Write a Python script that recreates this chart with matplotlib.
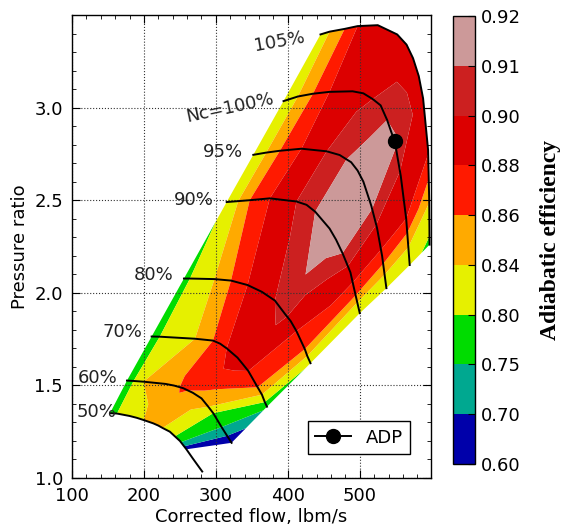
import numpy as np
import matplotlib
matplotlib.use("Agg")
import matplotlib.pyplot as plt
from matplotlib.ticker import MultipleLocator

# ---------------- data ----------------
speed_labels = ["50%", "60%", "70%", "80%", "90%", "95%", "Nc=100%", "105%"]

flow_50 = [152.8, 162.5, 180, 190, 199.6, 213, 220, 226, 236, 243, 250, 255, 259]
pr_50 = [1.35, 1.348, 1.335, 1.325, 1.313, 1.295, 1.283, 1.27, 1.25, 1.225, 1.20, 1.175, 1.155]
eff_50 = [0.775, 0.80, 0.825, 0.832, 0.84, 0.847, 0.845, 0.84, 0.82, 0.80, 0.765, 0.71, 0.66]
flow_50_tail = [268, 281]
pr_50_tail = [1.105, 1.035]

flow_60 = [176.4, 185.6, 199.5, 230, 242, 254.6, 268, 274, 280, 289.4, 296.3, 307.9, 321.8]
pr_60 = [1.526, 1.524, 1.52, 1.508, 1.499, 1.485, 1.46, 1.445, 1.43, 1.385, 1.35, 1.275, 1.19]
eff_60 = [0.78, 0.80, 0.84, 0.852, 0.857, 0.862, 0.858, 0.855, 0.85, 0.84, 0.80, 0.75, 0.66]

flow_70 = [210.7, 222, 271, 296, 306, 315, 330, 338, 345, 358, 364, 368, 371]
pr_70 = [1.764, 1.763, 1.752, 1.742, 1.725, 1.70, 1.65, 1.612, 1.578, 1.49, 1.45, 1.41, 1.385]
eff_70 = [0.78, 0.80, 0.84, 0.86, 0.87, 0.88, 0.89, 0.886, 0.88, 0.86, 0.84, 0.80, 0.76]

flow_80 = [255.6, 264, 298, 321, 344, 364, 382, 396, 404, 412, 423.6, 427, 431.5]
pr_80 = [2.077, 2.077, 2.074, 2.066, 2.042, 2.005, 1.958, 1.886, 1.847, 1.793, 1.696, 1.659, 1.62]
eff_80 = [0.785, 0.80, 0.84, 0.86, 0.88, 0.89, 0.90, 0.904, 0.893, 0.88, 0.86, 0.84, 0.806]

flow_90 = [315, 331, 347, 375, 412, 426, 438, 458, 467, 476, 487, 494, 500]
pr_90 = [2.49, 2.495, 2.50, 2.51, 2.493, 2.475, 2.438, 2.347, 2.287, 2.214, 2.11, 1.99, 1.89]
eff_90 = [0.805, 0.84, 0.86, 0.88, 0.90, 0.906, 0.91, 0.917, 0.915, 0.91, 0.895, 0.862, 0.81]

flow_95 = [352, 370, 389, 419, 454, 472, 488, 497, 505, 516, 524, 531, 537]
pr_95 = [2.745, 2.757, 2.767, 2.778, 2.764, 2.744, 2.705, 2.66, 2.60, 2.47, 2.35, 2.20, 2.025]
eff_95 = [0.82, 0.84, 0.86, 0.88, 0.90, 0.907, 0.912, 0.915, 0.917, 0.912, 0.898, 0.875, 0.815]

flow_100 = [394, 414, 435, 458, 490, 505, 518, 529, 538, 549, 557, 564.5, 569.4]
pr_100 = [3.035, 3.06, 3.075, 3.085, 3.088, 3.077, 3.046, 3.012, 2.933, 2.81, 2.63, 2.40, 2.15]
eff_100 = [0.82, 0.84, 0.86, 0.88, 0.893, 0.897, 0.90, 0.905, 0.91, 0.912, 0.898, 0.88, 0.815]

flow_105 = [445.4, 458, 479, 497, 525, 552, 565, 574, 582, 588, 595, 596.5, 597]
pr_105 = [3.395, 3.41, 3.425, 3.44, 3.445, 3.395, 3.34, 3.267, 3.17, 3.05, 2.77, 2.50, 2.26]
eff_105 = [0.825, 0.84, 0.86, 0.88, 0.892, 0.895, 0.895, 0.895, 0.894, 0.893, 0.883, 0.843, 0.79]

adp_flow = [548.6]
adp_pr = [2.818]

eff_levels = [0.60, 0.70, 0.75, 0.80, 0.84, 0.86, 0.88, 0.90, 0.91, 0.92]
band_colors = ["#0000aa", "#00a890", "#00dc00", "#e6f000", "#ffaa00",
               "#ff1a00", "#dc0000", "#cc2020", "#cc9999"]

# label positions (flow, PR, rotation)
label_x = [134.7, 135.4, 170, 213.9, 270, 309.7, 319.4, 388.9]
label_y = [1.356, 1.54, 1.786, 2.095, 2.50, 2.76, 3.00, 3.357]
label_rot = [0, 0, 0, 0, 0, 0, 12, 10]

# ---------------- figure ----------------
plt.rcParams["font.family"] = ["DejaVu Sans"]
FS = 13

fig = plt.figure(figsize=(5.61, 5.27), dpi=100)
ax = fig.add_axes([72 / 561, 49 / 527, 359 / 561, 463 / 527])

flows = [flow_50, flow_60, flow_70, flow_80, flow_90, flow_95, flow_100, flow_105]
prs = [pr_50, pr_60, pr_70, pr_80, pr_90, pr_95, pr_100, pr_105]
effs = [eff_50, eff_60, eff_70, eff_80, eff_90, eff_95, eff_100, eff_105]

X = np.array(flows)
Y = np.array(prs)
Z = np.array(effs)

cf = ax.contourf(X, Y, Z, levels=eff_levels, colors=band_colors, antialiased=True)

for i in range(len(flows)):
    fx = list(flows[i])
    py = list(prs[i])
    if i == 0:
        fx += flow_50_tail
        py += pr_50_tail
    ax.plot(fx, py, color="black", lw=1.4, zorder=3)

ax.plot(adp_flow, adp_pr, "k-o", ms=10, lw=1.4, label="ADP", zorder=4)

for i, lab in enumerate(speed_labels):
    ax.text(label_x[i], label_y[i], lab, ha="center", va="center",
            rotation=label_rot[i], fontsize=FS, color="#222222", zorder=5)

ax.set_xlim(100, 599)
ax.set_ylim(1.0, 3.5)
ax.set_xticks([100, 200, 300, 400, 500])
ax.set_yticks([1.0, 1.5, 2.0, 2.5, 3.0])
ax.xaxis.set_minor_locator(MultipleLocator(20))
ax.yaxis.set_minor_locator(MultipleLocator(0.1))
ax.tick_params(which="both", direction="in", top=True, right=True,
               labelsize=FS, pad=6.5)
ax.tick_params(which="major", length=6)
ax.tick_params(which="minor", length=3)
ax.grid(True, which="major", linestyle=":", color="#333333", lw=0.8)
for s in ax.spines.values():
    s.set_linewidth(1.0)

ax.set_xlabel("Corrected flow, lbm/s", fontsize=FS, labelpad=2)
ax.set_ylabel("Pressure ratio", fontsize=FS, labelpad=4)

leg = ax.legend(loc="lower right", bbox_to_anchor=(0.9415, 0.052),
                borderaxespad=0, numpoints=1, fancybox=False,
                edgecolor="black", framealpha=1, fontsize=FS)
leg.get_frame().set_linewidth(1.0)

cax = fig.add_axes([453 / 561, 63 / 527, 22 / 561, 448 / 527])
cb = fig.colorbar(cf, cax=cax, ticks=eff_levels)
cb.ax.set_yticklabels(["%.2f" % v for v in eff_levels])
cb.ax.tick_params(direction="in", length=5, labelsize=FS, pad=4)
cb.outline.set_linewidth(1.0)
cb.set_label("Adiabatic efficiency", family="Liberation Serif",
             fontweight="bold", fontsize=17, labelpad=14)

fig.savefig("out.png", dpi=100)
